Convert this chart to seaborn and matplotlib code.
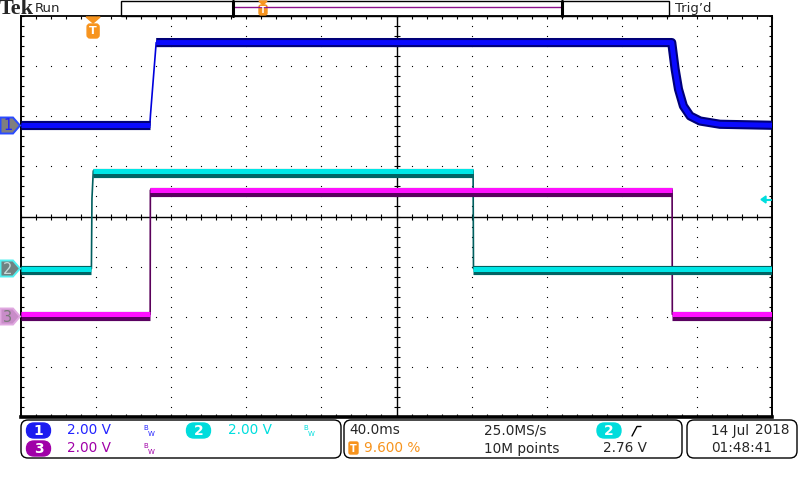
import numpy as np
import pandas as pd
import seaborn as sns
import matplotlib.pyplot as plt
from matplotlib.patches import FancyBboxPatch, Polygon, Rectangle

# -- trace readings: time in ms from the trigger, level in volts
ch1_t = [-38.4, 30.2, 30.6, 33.6, 308.2, 310.0, 311.8, 314.4, 318.0, 323.3, 333.9, 361.6]
ch1_v = [0.0, 0.0, 0.45, 3.3, 3.3, 2.24, 1.44, 0.77, 0.37, 0.17, 0.04, 0.0]

ch2_t = [-38.4, -0.9, -0.6, 0.1, 202.4, 202.6, 361.6]
ch2_v = [0.0, 0.0, 2.8, 3.9, 3.9, 0.0, 0.0]

ch3_t = [-38.4, 30.4, 30.5, 308.4, 308.5, 361.6]
ch3_v = [0.1, 0.1, 5.05, 5.05, 0.1, 0.1]

# -- scope settings
channels = ["1", "2", "3"]
ch_offset = [1.82, -1.04, -2.0]      # divisions
volts_per_div = 2.0
ms_per_div = 40.0
trig_pos = 0.096                      # 9.600 %
trig_level = 2.76                     # V on ch2

bright = ["#0a0aff", "#00e6e6", "#ff10ff"]
dark = ["#000078", "#006464", "#5a0060"]
edge = ["#0000dd", "#005f5f", "#5a005a"]
label_col = ["#2424ff", "#00dede", "#a000a8"]
orange = "#f7941e"

t_left = -trig_pos * 10 * ms_per_div
t_right = t_left + 10 * ms_per_div


def split_trace(t, v, off, fast=0.8):
    # fast edges are drawn thin, everything else as a thick band
    rows = []
    seg = 0
    for i in range(len(t)):
        if i > 0 and abs(v[i] - v[i - 1]) / (t[i] - t[i - 1]) > fast:
            seg += 1
        rows.append((t[i], off + v[i] / volts_per_div, seg))
    return pd.DataFrame(rows, columns=["t", "div", "seg"])


sns.set_style("white")
plt.rcParams["font.family"] = ["DejaVu Sans"]

fig = plt.figure(figsize=(8, 4.8), dpi=100)
ax = fig.add_axes([21 / 800, 63 / 480, 751 / 800, 401 / 480])
ax.set_xlim(t_left, t_right)
ax.set_ylim(-4, 4)

# graticule
gx = np.arange(t_left, t_right + 0.1, ms_per_div)
gy = np.arange(-4, 4.01, 1)
fine_x = np.arange(t_left, t_right + 0.1, ms_per_div / 5)
fine_y = np.arange(-4, 4.01, 0.2)
vx, vy = np.meshgrid(gx[1:-1], fine_y)
hx, hy = np.meshgrid(fine_x, gy[1:-1])
ax.plot(vx.ravel(), vy.ravel(), ls="none", marker="s", ms=0.8, mew=0, color="k", zorder=1)
ax.plot(hx.ravel(), hy.ravel(), ls="none", marker="s", ms=0.8, mew=0, color="k", zorder=1)
t_mid = (t_left + t_right) / 2
ax.axhline(0, color="k", lw=1.0, zorder=1)
ax.axvline(t_mid, color="k", lw=1.0, zorder=1)
ax.plot(fine_x, np.zeros_like(fine_x), ls="none", marker="|", ms=4.2, mew=0.8, color="k", zorder=1)
ax.plot(np.full_like(fine_y, t_mid), fine_y, ls="none", marker="_", ms=4.2, mew=0.8, color="k", zorder=1)

ax.set_xticks(fine_x)
ax.set_yticks(fine_y)
ax.set_xticklabels([])
ax.set_yticklabels([])
ax.tick_params(direction="in", length=2.5, width=0.8, top=True, right=True, bottom=True, left=True, color="k")
for side, lw in [("left", 1.4), ("right", 1.4), ("top", 1.3), ("bottom", 2.6)]:
    ax.spines[side].set_color("k")
    ax.spines[side].set_linewidth(lw)

# traces
traces = [(ch1_t, ch1_v), (ch2_t, ch2_v), (ch3_t, ch3_v)]
shift = [0.0, -0.035, -0.035]
for i, (t, v) in enumerate(traces):
    df = split_trace(t, v, ch_offset[i])
    df_dark = df.assign(div=df["div"] + shift[i])
    sns.lineplot(data=df, x="t", y="div", estimator=None, sort=False, color=edge[i],
                 lw=1.2, ax=ax, legend=False, zorder=3)
    sns.lineplot(data=df_dark, x="t", y="div", units="seg", estimator=None, sort=False,
                 color=dark[i], lw=6.6, ax=ax, legend=False, zorder=4, solid_capstyle="butt")
    sns.lineplot(data=df, x="t", y="div", units="seg", estimator=None, sort=False,
                 color=bright[i], lw=3.6, ax=ax, legend=False, zorder=5, solid_capstyle="butt")
ax.set_xlabel("")
ax.set_ylabel("")

# -- overlay in pixel coordinates for the scope furniture
ov = fig.add_axes([0, 0, 1, 1], zorder=5)
ov.set_xlim(0, 800)
ov.set_ylim(480, 0)
ov.axis("off")
ov.patch.set_alpha(0)


def px_y(div):
    return 216.5 - div * 50


def px_x(t):
    return 21 + (t - t_left) / (t_right - t_left) * 751


# top bar
ov.text(-1, 9, "Tek", fontsize=16, fontweight="bold", family=["Liberation Serif", "DejaVu Serif"],
        va="center", ha="left")
ov.text(35, 8.5, "Run", fontsize=9.5, va="center", ha="left")
ov.text(675, 8.5, "Trig\u2019d", fontsize=9.5, va="center", ha="left")
ov.add_patch(Rectangle((121, 0.5), 548, 15.5, fill=False, ec="k", lw=1))
ov.plot([233, 562], [7, 7], color="#8b108b", lw=1)
ov.plot([233, 233], [1, 15.5], color="k", lw=2.2)
ov.plot([562, 562], [1, 15.5], color="k", lw=2.2)

# trigger position marks
tx = px_x(0)
ov.add_patch(Polygon([(tx - 7, 17), (tx + 7, 17), (tx, 23)], color=orange))
ov.add_patch(FancyBboxPatch((tx - 6, 24), 12, 14, boxstyle="round,pad=0,rounding_size=3", color=orange))
ov.text(tx, 31.5, "T", color="white", fontsize=8, fontweight="bold", ha="center", va="center")
rx = 263
ov.add_patch(Polygon([(rx - 4, 1), (rx + 4, 1), (rx, 5)], color=orange))
ov.add_patch(FancyBboxPatch((rx - 4, 5), 8, 10, boxstyle="round,pad=0,rounding_size=2", color=orange))
ov.text(rx, 10.5, "T", color="white", fontsize=6, fontweight="bold", ha="center", va="center")

# channel ground markers
mark_fill = ["#7f7f7f", "#6f8282", "#c88cc8"]
mark_edge = ["#2a4bff", "#50f0f0", "#e0a8e0"]
mark_text = ["#2020ff", "#c8dcdc", "#7a7a7a"]
for i, ch in enumerate(channels):
    y = px_y(ch_offset[i])
    ov.add_patch(Polygon([(0.5, y - 8), (13, y - 8), (20, y), (13, y + 8), (0.5, y + 8)],
                         fc=mark_fill[i], ec=mark_edge[i], lw=1.4))
    ov.text(8, y + 0.5, ch, color=mark_text[i], fontsize=10.5, ha="center", va="center")

# trigger level arrow (ch2)
ly = px_y(ch_offset[1] + trig_level / volts_per_div)
ov.add_patch(Polygon([(761, ly), (766, ly - 3.5), (766, ly + 3.5)], color="#00dede"))
ov.plot([765, 771], [ly, ly], color="#00dede", lw=1.5)

# status boxes
for x0, x1 in [(21, 341), (344, 682), (687, 797)]:
    ov.add_patch(FancyBboxPatch((x0, 420), x1 - x0, 38, boxstyle="round,pad=0,rounding_size=7",
                                fc="white", ec="k", lw=1))


def pill(x, y, txt, col):
    ov.add_patch(FancyBboxPatch((x, y - 7.5), 24, 15, boxstyle="round,pad=0,rounding_size=7.5",
                                color=col))
    ov.text(x + 12, y + 0.5, txt, color="white", fontsize=10, fontweight="bold", ha="center", va="center")


def bw(x, y, col):
    ov.text(x, y - 2.5, "B", color=col, fontsize=5, ha="left", va="center")
    ov.text(x + 4.5, y + 2.5, "W", color=col, fontsize=5, ha="left", va="center")


fs = 9.8
pill(26.5, 430.5, "1", "#1c1cf0")
ov.text(67, 430.5, "2.00 V", color=label_col[0], fontsize=fs, va="center")
bw(143.5, 431, label_col[0])
pill(186.5, 430.5, "2", "#00dcdc")
ov.text(228, 430.5, "2.00 V", color=label_col[1], fontsize=fs, va="center")
bw(303.5, 431, label_col[1])
pill(26.5, 448.5, "3", "#a000a8")
ov.text(67, 448.5, "2.00 V", color=label_col[2], fontsize=fs, va="center")
bw(143.5, 449, label_col[2])

ov.text(349, 430.5, "40.0ms", fontsize=fs, va="center")
ov.add_patch(FancyBboxPatch((349, 442), 9, 12, boxstyle="round,pad=0,rounding_size=1.5", color=orange))
ov.text(353.5, 448.5, "T", color="white", fontsize=7, fontweight="bold", ha="center", va="center")
ov.text(364, 448.5, "9.600 %", color=orange, fontsize=fs, va="center")
ov.text(484, 430.5, "25.0MS/s", fontsize=fs, va="center")
ov.text(484, 448.5, "10M points", fontsize=fs, va="center")
pill(597, 430.5, "2", "#00dcdc")
ov.plot([632, 637, 641], [436, 426.5, 426.5], color="k", lw=1)
ov.text(603, 448.5, "2.76 V", fontsize=fs, va="center")

ov.text(711, 430.5, "14 Jul", fontsize=fs, va="center")
ov.text(755, 430.5, "2018", fontsize=fs, va="center")
ov.text(711, 448.5, "01:48:41", fontsize=fs, va="center")

fig.savefig("out.png", dpi=100)
